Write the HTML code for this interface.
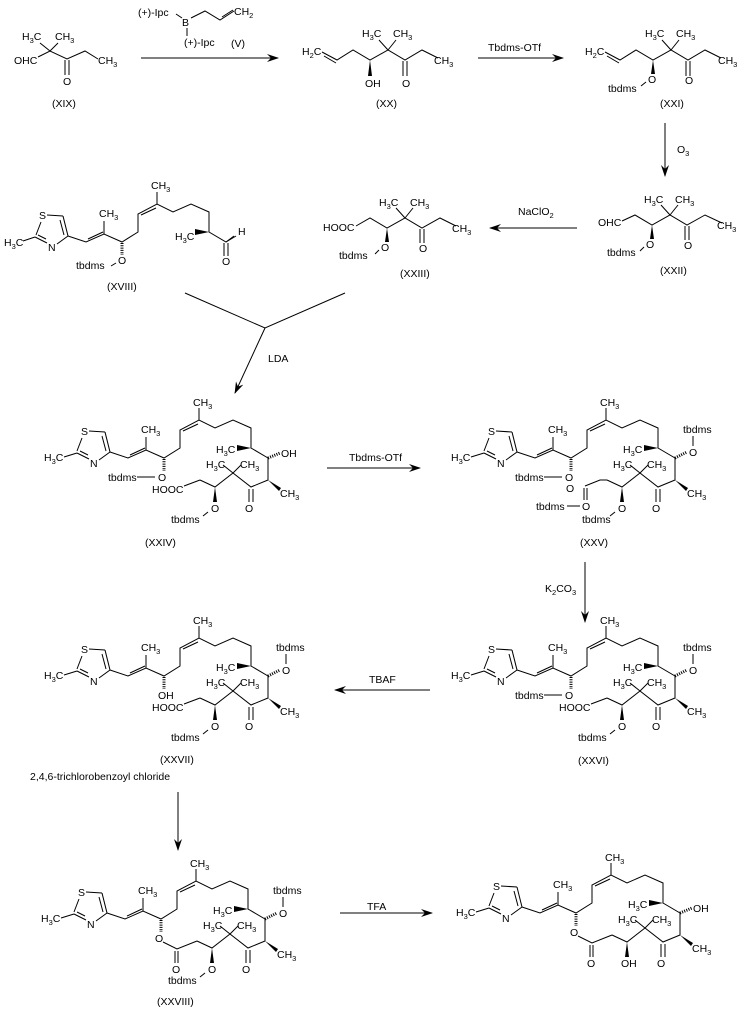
<!DOCTYPE html>
<html><head><meta charset="utf-8"><style>
html,body{margin:0;padding:0;background:#fff}
svg{display:block}
text{font-family:"Liberation Sans",sans-serif;font-size:10.5px;fill:#000}
.s{font-size:7.5px}
line,polyline,path{stroke:#000;stroke-width:1;fill:none}
.h{stroke-width:3;stroke-dasharray:1 1.3}
.w{fill:#000;stroke:none}
</style></head><body>
<svg width="741" height="1022" viewBox="0 0 741 1022" xmlns="http://www.w3.org/2000/svg">
<defs>
<marker id="ah" markerWidth="12" markerHeight="8" refX="11" refY="4" orient="auto" markerUnits="userSpaceOnUse">
<path d="M0,0 L12,4 L0,8 L4,4 Z" style="fill:#000;stroke:none"/></marker>
<g id="mc">
<line x1="64" y1="457" x2="77" y2="453"/>
<line x1="77" y1="451" x2="82" y2="438"/>
<line x1="89" y1="431" x2="105" y2="432"/>
<line x1="105" y1="432" x2="110" y2="452"/><line x1="102" y1="436" x2="106" y2="451"/>
<line x1="110" y1="452" x2="99" y2="460"/>
<line x1="89" y1="459" x2="77" y2="453"/><line x1="88" y1="455" x2="80" y2="451"/>
<polyline points="110,452 128,458 146,450 164,458 180,448 180,430 199,420 215,428 233,420 251,428 251,448 268,458 268,480 251,487 233,473 215,487 200,480"/>
<line x1="130" y1="455" x2="145" y2="448"/>
<line x1="183" y1="431" x2="198" y2="424"/>
<line x1="146" y1="450" x2="146" y2="437"/>
<line x1="199" y1="420" x2="199" y2="408"/>
<polygon class="w" points="251,448 237,445 237,451"/>
<polygon class="w" points="268,480 281,488 279,491"/>
<line x1="249" y1="489" x2="249" y2="502"/><line x1="253" y1="489" x2="253" y2="502"/>
<line x1="233" y1="473" x2="223" y2="465"/><line x1="233" y1="473" x2="241" y2="465"/>
<polygon class="w" points="215,487 213,502 217,502"/>
<line class="h" x1="164" y1="459" x2="164" y2="471"/>
</g>
</defs>

<!-- XIX -->
<text x="14" y="64">OHC</text>
<text x="22" y="40">H<tspan class="s" dy="3">3</tspan><tspan dy="-3">C</tspan></text>
<text x="55" y="40">CH<tspan class="s" dy="3">3</tspan></text>
<polyline points="38,57 50,51 67,59 85,51 98,59"/>
<line x1="50" y1="51" x2="40" y2="43"/><line x1="50" y1="51" x2="58" y2="43"/>
<line x1="65" y1="60" x2="65" y2="75"/><line x1="69" y1="60" x2="69" y2="75"/>
<text x="63" y="85">O</text>
<text x="98" y="64">CH<tspan class="s" dy="3">3</tspan></text>
<text x="52" y="107">(XIX)</text>
<!-- reagent V -->
<text x="138" y="16">(+)-Ipc</text>
<text x="182" y="26">B</text>
<polyline points="176,14 182,18"/>
<polyline points="191,18 205,11 220,20 234,11"/>
<line x1="222" y1="17" x2="233" y2="10"/>
<text x="234" y="15">CH<tspan class="s" dy="3">2</tspan></text>
<line x1="187" y1="28" x2="187" y2="36"/>
<text x="184" y="46">(+)-Ipc</text>
<text x="231" y="47">(V)</text>
<line x1="141" y1="58" x2="278" y2="58" marker-end="url(#ah)"/>

<!-- XX -->
<text x="302" y="55">H<tspan class="s" dy="3">2</tspan><tspan dy="-3">C</tspan></text>
<polyline points="322,52 337,60 353,50 370,60 388,50 405,60 422,50 438,58"/>
<line x1="324" y1="56" x2="336" y2="63"/>
<polygon class="w" points="370,60 368,76 372,76"/>
<text x="365" y="87">OH</text>
<line x1="388" y1="50" x2="379" y2="40"/><line x1="388" y1="50" x2="396" y2="40"/>
<text x="362" y="37">H<tspan class="s" dy="3">3</tspan><tspan dy="-3">C</tspan></text>
<text x="393" y="37">CH<tspan class="s" dy="3">3</tspan></text>
<line x1="403" y1="61" x2="403" y2="76"/><line x1="407" y1="61" x2="407" y2="76"/>
<text x="402" y="87">O</text>
<text x="434" y="64">CH<tspan class="s" dy="3">3</tspan></text>
<text x="376" y="107">(XX)</text>
<text x="488" y="51">Tbdms-OTf</text>
<line x1="478" y1="58" x2="563" y2="58" marker-end="url(#ah)"/>

<!-- XXI -->
<text x="585" y="55">H<tspan class="s" dy="3">2</tspan><tspan dy="-3">C</tspan></text>
<polyline points="605,52 620,60 636,50 653,60 671,50 688,60 705,50 721,58"/>
<line x1="607" y1="56" x2="619" y2="63"/>
<polygon class="w" points="653,60 651,74 655,74"/>
<text x="648" y="83">O</text>
<line x1="646" y1="82" x2="641" y2="86"/>
<text x="608" y="92">tbdms</text>
<line x1="671" y1="50" x2="662" y2="40"/><line x1="671" y1="50" x2="679" y2="40"/>
<text x="645" y="37">H<tspan class="s" dy="3">3</tspan><tspan dy="-3">C</tspan></text>
<text x="676" y="37">CH<tspan class="s" dy="3">3</tspan></text>
<line x1="686" y1="61" x2="686" y2="76"/><line x1="690" y1="61" x2="690" y2="76"/>
<text x="685" y="84">O</text>
<text x="718" y="64">CH<tspan class="s" dy="3">3</tspan></text>
<text x="660" y="107">(XXI)</text>
<line x1="665" y1="123" x2="665" y2="176" marker-end="url(#ah)"/>
<text x="677" y="153">O<tspan class="s" dy="3">3</tspan></text>

<!-- XXII -->
<text x="598" y="226">OHC</text>
<polyline points="622,221 635,215 652,225 670,215 687,225 705,215 722,223"/>
<polygon class="w" points="652,225 650,239 654,239"/>
<text x="646" y="248">O</text>
<line x1="644" y1="247" x2="640" y2="251"/>
<text x="607" y="256">tbdms</text>
<line x1="670" y1="215" x2="661" y2="205"/><line x1="670" y1="215" x2="678" y2="205"/>
<text x="644" y="203">H<tspan class="s" dy="3">3</tspan><tspan dy="-3">C</tspan></text>
<text x="675" y="203">CH<tspan class="s" dy="3">3</tspan></text>
<line x1="685" y1="226" x2="685" y2="240"/><line x1="689" y1="226" x2="689" y2="240"/>
<text x="684" y="249">O</text>
<text x="717" y="229">CH<tspan class="s" dy="3">3</tspan></text>
<text x="660" y="274">(XXII)</text>
<line x1="577" y1="228" x2="490" y2="228" marker-end="url(#ah)"/>
<text x="518" y="215">NaClO<tspan class="s" dy="3">2</tspan></text>

<!-- XXIII -->
<text x="323" y="231">HOOC</text>
<polyline points="356,226 370,218 387,228 405,218 422,228 440,218 456,226"/>
<polygon class="w" points="387,228 385,242 389,242"/>
<text x="381" y="251">O</text>
<line x1="379" y1="250" x2="375" y2="254"/>
<text x="339" y="259">tbdms</text>
<line x1="405" y1="218" x2="396" y2="208"/><line x1="405" y1="218" x2="413" y2="208"/>
<text x="379" y="206">H<tspan class="s" dy="3">3</tspan><tspan dy="-3">C</tspan></text>
<text x="410" y="206">CH<tspan class="s" dy="3">3</tspan></text>
<line x1="420" y1="229" x2="420" y2="243"/><line x1="424" y1="229" x2="424" y2="243"/>
<text x="419" y="252">O</text>
<text x="452" y="232">CH<tspan class="s" dy="3">3</tspan></text>
<text x="400" y="277">(XXIII)</text>

<!-- XVIII -->
<g>
<text x="4" y="246">H<tspan class="s" dy="3">3</tspan><tspan dy="-3">C</tspan></text>
<line x1="23" y1="241" x2="35" y2="237"/>
<line x1="36" y1="235" x2="41" y2="222"/>
<text x="39" y="219">S</text>
<line x1="47" y1="215" x2="63" y2="216"/>
<line x1="63" y1="216" x2="68" y2="236"/><line x1="60" y1="220" x2="64" y2="235"/>
<line x1="68" y1="236" x2="57" y2="244"/>
<text x="48" y="251">N</text>
<line x1="47" y1="243" x2="35" y2="237"/><line x1="46" y1="239" x2="38" y2="235"/>
<polyline points="68,236 86,242 104,234 122,242 138,232 138,214 157,204 173,212 191,204 209,212 209,232 226,242 234,236"/>
<line x1="88" y1="239" x2="103" y2="232"/>
<line x1="141" y1="215" x2="156" y2="208"/>
<line x1="104" y1="234" x2="104" y2="221"/>
<text x="99" y="217">CH<tspan class="s" dy="3">3</tspan></text>
<line x1="157" y1="204" x2="157" y2="192"/>
<text x="151" y="189">CH<tspan class="s" dy="3">3</tspan></text>
<polygon class="w" points="209,232 195,229 195,235"/>
<text x="175" y="240">H<tspan class="s" dy="3">3</tspan><tspan dy="-3">C</tspan></text>
<line x1="226" y1="242" x2="236" y2="236"/>
<line x1="224" y1="243" x2="224" y2="256"/><line x1="228" y1="243" x2="228" y2="256"/>
<text x="222" y="265">O</text>
<text x="238" y="235">H</text>
<line class="h" x1="122" y1="243" x2="122" y2="255"/>
<text x="118" y="264">O</text>
<line x1="116" y1="263" x2="111" y2="266"/>
<text x="76" y="269">tbdms</text>
<text x="107" y="290">(XVIII)</text>
</g>
<polyline points="185,293 265,328 345,293"/>
<line x1="265" y1="328" x2="235" y2="393" marker-end="url(#ah)"/>
<text x="268" y="362">LDA</text>

<!-- XXIV -->
<g>
<use href="#mc"/>
<text x="44" y="461">H<tspan class="s" dy="3">3</tspan><tspan dy="-3">C</tspan></text>
<text x="81" y="435">S</text><text x="90" y="467">N</text>
<text x="141" y="433">CH<tspan class="s" dy="3">3</tspan></text>
<text x="193" y="406">CH<tspan class="s" dy="3">3</tspan></text>
<text x="216" y="453">H<tspan class="s" dy="3">3</tspan><tspan dy="-3">C</tspan></text>
<text x="206" y="468">H<tspan class="s" dy="3">3</tspan><tspan dy="-3">C</tspan></text>
<text x="240" y="468">CH<tspan class="s" dy="3">3</tspan></text>
<text x="280" y="497">CH<tspan class="s" dy="3">3</tspan></text>
<text x="245" y="512">O</text><text x="211" y="512">O</text><text x="158" y="481">O</text>
<text x="108" y="481">tbdms</text><line x1="137" y1="477" x2="155" y2="477"/>
<text x="152" y="493">HOOC</text><line x1="184" y1="486" x2="200" y2="480"/>
<line class="h" x1="268" y1="458" x2="280" y2="453"/><text x="281" y="457">OH</text>
<line x1="208" y1="512" x2="203" y2="516"/><text x="171" y="523">tbdms</text>
<text x="145" y="546">(XXIV)</text>
</g>
<text x="349" y="461">Tbdms-OTf</text>
<line x1="327" y1="468" x2="420" y2="468" marker-end="url(#ah)"/>

<!-- XXV -->
<g transform="translate(407,0)">
<use href="#mc"/>
<text x="44" y="461">H<tspan class="s" dy="3">3</tspan><tspan dy="-3">C</tspan></text>
<text x="81" y="435">S</text><text x="90" y="467">N</text>
<text x="141" y="433">CH<tspan class="s" dy="3">3</tspan></text>
<text x="193" y="406">CH<tspan class="s" dy="3">3</tspan></text>
<text x="216" y="453">H<tspan class="s" dy="3">3</tspan><tspan dy="-3">C</tspan></text>
<text x="206" y="468">H<tspan class="s" dy="3">3</tspan><tspan dy="-3">C</tspan></text>
<text x="240" y="468">CH<tspan class="s" dy="3">3</tspan></text>
<text x="280" y="497">CH<tspan class="s" dy="3">3</tspan></text>
<text x="245" y="512">O</text><text x="211" y="512">O</text><text x="158" y="481">O</text>
<text x="108" y="481">tbdms</text><line x1="137" y1="477" x2="155" y2="477"/>
<line class="h" x1="268" y1="458" x2="280" y2="452"/><text x="282" y="456">O</text>
<line x1="286" y1="446" x2="286" y2="436"/><text x="276" y="433">tbdms</text>
<text x="159" y="492">O</text>
<polyline points="178,486 193,480 200,480"/><line x1="177" y1="488" x2="177" y2="500"/><line x1="180" y1="488" x2="180" y2="500"/>
<text x="175" y="510">O</text><line x1="160" y1="506" x2="173" y2="506"/><text x="129" y="510">tbdms</text>
<line x1="208" y1="512" x2="203" y2="516"/><text x="175" y="523">tbdms</text>
<text x="173" y="546">(XXV)</text>
</g>
<line x1="585" y1="562" x2="585" y2="622" marker-end="url(#ah)"/>
<text x="545" y="592">K<tspan class="s" dy="3">2</tspan><tspan dy="-3">CO</tspan><tspan class="s" dy="3">3</tspan></text>

<!-- XXVI -->
<g transform="translate(407,218)">
<use href="#mc"/>
<text x="44" y="461">H<tspan class="s" dy="3">3</tspan><tspan dy="-3">C</tspan></text>
<text x="81" y="435">S</text><text x="90" y="467">N</text>
<text x="141" y="433">CH<tspan class="s" dy="3">3</tspan></text>
<text x="193" y="406">CH<tspan class="s" dy="3">3</tspan></text>
<text x="216" y="453">H<tspan class="s" dy="3">3</tspan><tspan dy="-3">C</tspan></text>
<text x="206" y="468">H<tspan class="s" dy="3">3</tspan><tspan dy="-3">C</tspan></text>
<text x="240" y="468">CH<tspan class="s" dy="3">3</tspan></text>
<text x="280" y="497">CH<tspan class="s" dy="3">3</tspan></text>
<text x="245" y="512">O</text><text x="211" y="512">O</text><text x="158" y="481">O</text>
<text x="108" y="481">tbdms</text><line x1="137" y1="477" x2="155" y2="477"/>
<text x="152" y="493">HOOC</text><line x1="184" y1="486" x2="200" y2="480"/>
<line class="h" x1="268" y1="458" x2="280" y2="452"/><text x="282" y="456">O</text>
<line x1="286" y1="446" x2="286" y2="436"/><text x="276" y="433">tbdms</text>
<line x1="208" y1="512" x2="203" y2="516"/><text x="171" y="523">tbdms</text>
<text x="171" y="546">(XXVI)</text>
</g>
<line x1="430" y1="690" x2="335" y2="690" marker-end="url(#ah)"/>
<text x="369" y="683">TBAF</text>

<!-- XXVII -->
<g transform="translate(0,218)">
<use href="#mc"/>
<text x="44" y="461">H<tspan class="s" dy="3">3</tspan><tspan dy="-3">C</tspan></text>
<text x="81" y="435">S</text><text x="90" y="467">N</text>
<text x="141" y="433">CH<tspan class="s" dy="3">3</tspan></text>
<text x="193" y="406">CH<tspan class="s" dy="3">3</tspan></text>
<text x="216" y="453">H<tspan class="s" dy="3">3</tspan><tspan dy="-3">C</tspan></text>
<text x="206" y="468">H<tspan class="s" dy="3">3</tspan><tspan dy="-3">C</tspan></text>
<text x="240" y="468">CH<tspan class="s" dy="3">3</tspan></text>
<text x="280" y="497">CH<tspan class="s" dy="3">3</tspan></text>
<text x="245" y="512">O</text><text x="211" y="512">O</text><text x="158" y="481">OH</text>
<text x="152" y="493">HOOC</text><line x1="184" y1="486" x2="200" y2="480"/>
<line class="h" x1="268" y1="458" x2="280" y2="452"/><text x="282" y="456">O</text>
<line x1="286" y1="446" x2="286" y2="436"/><text x="276" y="433">tbdms</text>
<line x1="208" y1="512" x2="203" y2="516"/><text x="171" y="523">tbdms</text>
<text x="160" y="545">(XXVII)</text>
</g>
<line x1="178" y1="792" x2="178" y2="850" marker-end="url(#ah)"/>
<text x="30" y="780">2,4,6-trichlorobenzoyl chloride</text>

<!-- XXVIII -->
<g transform="translate(-3,461)">
<use href="#mc"/>
<text x="44" y="461">H<tspan class="s" dy="3">3</tspan><tspan dy="-3">C</tspan></text>
<text x="81" y="435">S</text><text x="90" y="467">N</text>
<text x="141" y="433">CH<tspan class="s" dy="3">3</tspan></text>
<text x="193" y="406">CH<tspan class="s" dy="3">3</tspan></text>
<text x="216" y="453">H<tspan class="s" dy="3">3</tspan><tspan dy="-3">C</tspan></text>
<text x="206" y="468">H<tspan class="s" dy="3">3</tspan><tspan dy="-3">C</tspan></text>
<text x="240" y="468">CH<tspan class="s" dy="3">3</tspan></text>
<text x="280" y="497">CH<tspan class="s" dy="3">3</tspan></text>
<text x="245" y="512">O</text><text x="211" y="512">O</text><text x="158" y="481">O</text>
<polyline points="166,481 180,488 200,480"/><line x1="178" y1="490" x2="178" y2="502"/><line x1="181" y1="490" x2="181" y2="502"/>
<text x="175" y="512">O</text>
<line class="h" x1="268" y1="458" x2="280" y2="452"/><text x="282" y="456">O</text>
<line x1="286" y1="446" x2="286" y2="436"/><text x="276" y="433">tbdms</text>
<line x1="208" y1="512" x2="203" y2="516"/><text x="171" y="523">tbdms</text>
<text x="160" y="544">(XXVIII)</text>
</g>
<line x1="340" y1="913" x2="432" y2="913" marker-end="url(#ah)"/>
<text x="367" y="910">TFA</text>

<!-- final -->
<g transform="translate(412,455)">
<use href="#mc"/>
<text x="44" y="461">H<tspan class="s" dy="3">3</tspan><tspan dy="-3">C</tspan></text>
<text x="81" y="435">S</text><text x="90" y="467">N</text>
<text x="141" y="433">CH<tspan class="s" dy="3">3</tspan></text>
<text x="193" y="406">CH<tspan class="s" dy="3">3</tspan></text>
<text x="216" y="453">H<tspan class="s" dy="3">3</tspan><tspan dy="-3">C</tspan></text>
<text x="206" y="468">H<tspan class="s" dy="3">3</tspan><tspan dy="-3">C</tspan></text>
<text x="240" y="468">CH<tspan class="s" dy="3">3</tspan></text>
<text x="280" y="497">CH<tspan class="s" dy="3">3</tspan></text>
<text x="245" y="512">O</text><text x="209" y="512">OH</text><text x="158" y="481">O</text>
<polyline points="166,481 180,488 200,480"/><line x1="178" y1="490" x2="178" y2="502"/><line x1="181" y1="490" x2="181" y2="502"/>
<text x="175" y="512">O</text>
<line class="h" x1="268" y1="458" x2="280" y2="453"/><text x="281" y="457">OH</text>
</g>
</svg>
</body></html>
